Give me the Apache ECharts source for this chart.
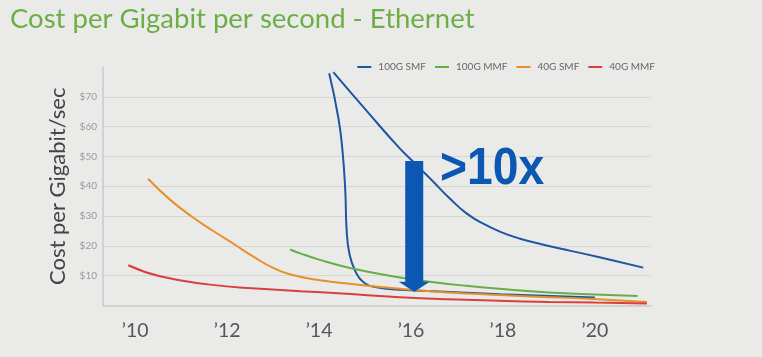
<!DOCTYPE html>
<html>
<head>
<meta charset="utf-8">
<script src="https://cdn.jsdelivr.net/npm/echarts@6/dist/echarts.min.js"></script>
<style>
html,body{margin:0;padding:0;background:#EAEBE9;}
#chart{width:762px;height:357px;}
</style>
</head>
<body>
<div id="chart"></div>
<script>
// ---- data ----
const seriesNames = ['100G SMF', '100G MMF', '40G SMF', '40G MMF'];
const xTicks = [2010, 2012, 2014, 2016, 2018, 2020];

// 100G SMF, steep branch
const smf100Steep = [
  [2014.22, 77.9], [2014.42, 62.9], [2014.51, 51.8], [2014.57, 38.5], [2014.60, 25.2],
  [2014.66, 17.4], [2014.78, 11.8], [2014.96, 7.9], [2015.25, 6.1], [2015.76, 5.3],
  [2016.49, 4.8], [2017.93, 3.8], [2020.00, 2.7]
];
// 100G SMF, diagonal branch
const smf100Diag = [
  [2014.31, 78.3], [2015.04, 65.2], [2015.76, 52.6], [2016.09, 47.6], [2016.49, 41.4],
  [2016.85, 35.8], [2017.20, 31.0], [2017.55, 27.6], [2017.93, 24.8], [2018.37, 22.4],
  [2018.80, 20.7], [2019.24, 19.1], [2019.75, 17.4], [2020.40, 15.1], [2021.05, 12.7]
];
const mmf100 = [
  [2013.37, 18.8], [2013.59, 17.5], [2014.00, 15.4], [2014.67, 12.6], [2015.76, 9.4],
  [2016.50, 7.8], [2017.20, 6.6], [2018.00, 5.5], [2019.00, 4.4], [2020.00, 3.7], [2020.93, 3.2]
];
const smf40 = [
  [2010.28, 42.5], [2010.75, 35.6], [2011.26, 29.5], [2011.70, 25.0], [2012.13, 20.8],
  [2012.57, 16.4], [2013.00, 12.6], [2013.40, 10.3], [2014.02, 8.5], [2014.85, 7.0],
  [2015.76, 5.6], [2016.80, 4.4], [2017.93, 3.5], [2019.00, 2.8], [2019.96, 2.2], [2021.13, 1.2]
];
const mmf40 = [
  [2009.85, 13.5], [2010.54, 9.8], [2011.63, 7.0], [2012.72, 5.6], [2013.60, 4.8],
  [2014.50, 4.0], [2015.76, 2.8], [2016.80, 2.1], [2017.90, 1.6], [2019.00, 1.2],
  [2020.00, 1.0], [2021.13, 0.7]
];
// annotation: arrow (x, top value, tip value) and ">10x" label anchor
const arrowData = [2016.07, 48.5, 4.6];
const labelAnchor = [2016.63, 45.6];
const labelText = '>10x';

const colors = { smf100: '#1E56A0', mmf100: '#66AF45', smf40: '#E6902B', mmf40: '#D8403E', arrow: '#0B57B1' };

const chart = echarts.init(document.getElementById('chart'), null, { renderer: 'canvas' });

function lineSeries(name, data, color) {
  return {
    name: name, type: 'line', data: data, smooth: 0.5, symbol: 'none',
    lineStyle: { color: color, width: 2 }, itemStyle: { color: color }
  };
}

const option = {
  backgroundColor: '#EAEBE9',
  animation: false,
  title: {
    text: 'Cost per Gigabit per second - Ethernet',
    left: 5, top: 0,
    textStyle: { fontFamily: 'Lato', fontWeight: 'normal', fontSize: 27.5, color: '#6DAE47' }
  },
  legend: {
    data: seriesNames,
    right: 107, top: 62,
    icon: 'rect', itemWidth: 14, itemHeight: 2, itemGap: 9,
    padding: 0,
    textStyle: { fontFamily: 'Lato', fontSize: 10, color: '#666', padding: [0, 0, 0, 2] }
  },
  grid: { left: 103, right: 111, top: 67, bottom: 51.5, containLabel: false },
  xAxis: {
    type: 'value', min: 2009.3, max: 2021.22,
    axisLine: { show: true, lineStyle: { color: '#C9CAC8', width: 1.5 } },
    axisTick: { show: false },
    splitLine: { show: false },
    axisLabel: {
      customValues: xTicks,
      formatter: v => '\u2019' + String(v - 2000).padStart(2, '0'),
      fontFamily: 'Lato', fontSize: 19.5, color: '#555', margin: 15
    }
  },
  yAxis: {
    type: 'value', min: 0, max: 80, interval: 10,
    name: 'Cost per Gigabit/sec', nameLocation: 'middle', nameGap: 28,
    nameTextStyle: { fontFamily: 'Lato', fontSize: 22, color: '#444' },
    axisLine: { show: true, lineStyle: { color: '#C9CAC8', width: 1.5 } },
    axisTick: { show: false },
    splitLine: { show: true, showMaxLine: false, showMinLine: false, lineStyle: { color: '#D5D6D4', width: 1.2 } },
    axisLabel: {
      formatter: v => (v === 0 || v === 80) ? '' : '$' + v,
      fontFamily: 'Lato', fontSize: 10, color: '#999', margin: 6
    }
  },
  series: [
    lineSeries('100G SMF', smf100Steep, colors.smf100),
    lineSeries('100G SMF', smf100Diag, colors.smf100),
    lineSeries('100G MMF', mmf100, colors.mmf100),
    lineSeries('40G SMF', smf40, colors.smf40),
    lineSeries('40G MMF', mmf40, colors.mmf40),
    {
      name: 'annotation', type: 'custom', z: 10, silent: true,
      data: [[arrowData[0], arrowData[1], arrowData[2], labelAnchor[0], labelAnchor[1]]],
      renderItem: function (params, api) {
        const top = api.coord([api.value(0), api.value(1)]);
        const tip = api.coord([api.value(0), api.value(2)]);
        const lab = api.coord([api.value(3), api.value(4)]);
        const sw = 9, hw = 15.5, hh = 10;
        const cx = tip[0];
        const pts = [
          [cx - sw, top[1]], [cx + sw, top[1]], [cx + sw, tip[1] - hh], [cx + hw, tip[1] - hh],
          [cx, tip[1]], [cx - hw, tip[1] - hh], [cx - sw, tip[1] - hh]
        ];
        return {
          type: 'group',
          children: [
            { type: 'polygon', shape: { points: pts }, style: { fill: colors.arrow } },
            {
              type: 'text', x: lab[0], y: lab[1], scaleX: 0.89,
              style: {
                text: labelText,
                font: 'bold 52px "Liberation Sans", sans-serif',
                fill: colors.arrow,
                align: 'left', verticalAlign: 'middle',
                textAlign: 'left', textVerticalAlign: 'middle'
              }
            }
          ]
        };
      }
    }
  ]
};
chart.setOption(option);
</script>
</body>
</html>
